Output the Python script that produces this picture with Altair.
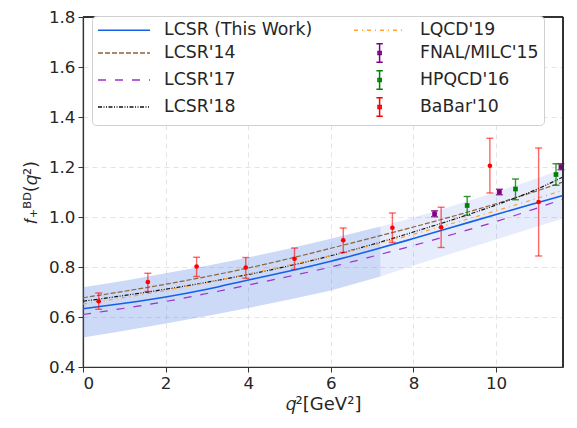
import altair as alt
import pandas as pd

# ---------------- data ----------------
q_grid = [0, 1, 2, 3, 4, 5, 6, 7, 8, 9, 10, 11, 11.62]
lcsr_this = [0.633, 0.655, 0.680, 0.711, 0.748, 0.784, 0.823, 0.867, 0.914, 0.962, 1.010, 1.057, 1.086]
lcsr_17 = [0.610, 0.635, 0.662, 0.694, 0.728, 0.763, 0.800, 0.842, 0.886, 0.933, 0.982, 1.036, 1.072]
lqcd_19 = [0.652, 0.678, 0.706, 0.738, 0.772, 0.808, 0.846, 0.887, 0.931, 0.977, 1.025, 1.075, 1.107]
lcsr_14 = [0.677, 0.703, 0.731, 0.762, 0.796, 0.834, 0.875, 0.917, 0.960, 1.005, 1.053, 1.105, 1.140]
lcsr_18 = [0.663, 0.686, 0.711, 0.739, 0.770, 0.805, 0.845, 0.890, 0.940, 0.992, 1.048, 1.112, 1.160]

band_q_a = [0, 1, 2, 3, 4, 5, 6, 7.2]
band_hi_a = [0.719, 0.745, 0.775, 0.805, 0.838, 0.874, 0.913, 0.962]
band_lo_a = [0.518, 0.545, 0.574, 0.604, 0.636, 0.670, 0.706, 0.762]
band_q_b = [7.2, 8, 9, 10, 11, 11.62]
band_hi_b = [0.962, 0.998, 1.047, 1.100, 1.155, 1.192]
band_lo_b = [0.762, 0.806, 0.858, 0.910, 0.962, 0.994]

babar_q = [0.38, 1.57, 2.75, 3.94, 5.12, 6.30, 7.49, 8.67, 9.85, 11.03]
babar_f = [0.663, 0.740, 0.802, 0.798, 0.833, 0.907, 0.957, 0.959, 1.205, 1.060]
babar_lo = [0.631, 0.702, 0.762, 0.755, 0.790, 0.858, 0.898, 0.878, 1.096, 0.844]
babar_hi = [0.696, 0.775, 0.839, 0.838, 0.876, 0.956, 1.016, 1.039, 1.315, 1.276]

fnal_q = [8.51, 10.08, 11.57]
fnal_f = [1.013, 1.100, 1.201]
fnal_lo = [1.001, 1.089, 1.189]
fnal_hi = [1.025, 1.111, 1.213]

hpqcd_q = [9.30, 10.47, 11.45]
hpqcd_f = [1.046, 1.112, 1.170]
hpqcd_lo = [1.007, 1.069, 1.127]
hpqcd_hi = [1.082, 1.152, 1.213]

# legend order (filled column by column)
series_order = ["LCSR (This Work)", "LCSR'14", "LCSR'17", "LCSR'18",
                "LQCD'19", "FNAL/MILC'15", "HPQCD'16", "BaBar'10"]
series_colors = ["#1560e8", "#8b6640", "#9932cc", "#111111",
                 "#ffa030", "#800080", "#008000", "#ff0000"]
series_dashes = [[1, 0], [5, 2], [8, 9], [4, 1.5, 1, 1.5, 1, 1.5],
                 [4, 4, 1, 4], [1, 0], [1, 0], [1, 0]]
line_path = "M-1,0H5.5"
bar_path = "M2.2,-1.15V1.15M1.8,-1.15H2.6M1.8,1.15H2.6M2.0,-0.2H2.4V0.2H2.0Z"
series_shapes = [line_path, line_path, line_path, line_path,
                 line_path, bar_path, bar_path, bar_path]

x_ticks = [0, 2, 4, 6, 8, 10]
y_ticks = [0.4, 0.6, 0.8, 1.0, 1.2, 1.4, 1.6, 1.8]

# ---------------- tables ----------------
curves = [("LCSR (This Work)", lcsr_this), ("LCSR'14", lcsr_14), ("LCSR'17", lcsr_17),
          ("LCSR'18", lcsr_18), ("LQCD'19", lqcd_19)]
line_df = pd.DataFrame([{"q": q, "f": v, "series": n}
                        for n, vals in curves for q, v in zip(q_grid, vals)])
band_a = pd.DataFrame({"q": band_q_a, "lo": band_lo_a, "hi": band_hi_a})
band_b = pd.DataFrame({"q": band_q_b, "lo": band_lo_b, "hi": band_hi_b})
babar = pd.DataFrame({"q": babar_q, "f": babar_f, "lo": babar_lo, "hi": babar_hi})
fnal = pd.DataFrame({"q": fnal_q, "f": fnal_f, "lo": fnal_lo, "hi": fnal_hi})
hpqcd = pd.DataFrame({"q": hpqcd_q, "f": hpqcd_f, "lo": hpqcd_lo, "hi": hpqcd_hi})
legend_df = pd.DataFrame({"series": series_order})

PW, PH = 480, 350

# ---------------- scales / axes ----------------
xs = alt.Scale(domain=[0, 11.62], nice=False, zero=False)
ys = alt.Scale(domain=[0.4, 1.8], nice=False, zero=False)
ax_x = alt.Axis(values=x_ticks, title="𝑞²[GeV²]", format="d", titlePadding=4)
ax_y = alt.Axis(values=y_ticks, title="𝑓₊ᴮᴰ(𝑞²)", format=".1f", titlePadding=8)
color_scale = alt.Scale(domain=series_order, range=series_colors)
dash_scale = alt.Scale(domain=series_order, range=series_dashes)
shape_scale = alt.Scale(domain=series_order, range=series_shapes)


def leg():
    return alt.Legend(
        title=None, orient="none", legendX=9, legendY=-1, columns=2,
        symbolSize=256, symbolStrokeWidth=1.5, symbolOpacity=1,
        labelOffset=49, labelFontSize=17.3, labelColor="#262626", labelLimit=300,
        padding=5, rowPadding=1, columnPadding=38,
        fillColor="white", strokeColor="#d0d0d0", cornerRadius=4)


def X(field):
    return alt.X(field, type="quantitative", scale=xs, axis=ax_x)


def Y(field):
    return alt.Y(field, type="quantitative", scale=ys, axis=ax_y)


band_dark = alt.Chart(band_a).mark_area(color="#3a6ee0", opacity=0.26).encode(
    x=X("q"), y=Y("lo"), y2="hi")
band_light = alt.Chart(band_b).mark_area(color="#3a6ee0", opacity=0.13).encode(
    x=X("q"), y=Y("lo"), y2="hi")

others = line_df[line_df.series != "LCSR (This Work)"]
main = line_df[line_df.series == "LCSR (This Work)"]

lines_other = alt.Chart(others).mark_line(strokeWidth=1.2, interpolate="monotone").encode(
    x=X("q"), y=Y("f"),
    color=alt.Color("series:N", scale=color_scale, legend=leg()),
    strokeDash=alt.StrokeDash("series:N", scale=dash_scale, legend=leg()),
    detail="series:N")
line_main = alt.Chart(main).mark_line(strokeWidth=1.6, interpolate="monotone").encode(
    x=X("q"), y=Y("f"),
    color=alt.Color("series:N", scale=color_scale, legend=leg()))


def errbars(df, color, shape, msize, bar_op):
    rule = alt.Chart(df).mark_rule(color=color, strokeWidth=1.4, opacity=bar_op).encode(
        x=X("q"), y=Y("lo"), y2="hi")
    cap_lo = alt.Chart(df).mark_tick(color=color, orient="horizontal", size=7,
                                     thickness=1.4, opacity=bar_op).encode(x=X("q"), y=Y("lo"))
    cap_hi = alt.Chart(df).mark_tick(color=color, orient="horizontal", size=7,
                                     thickness=1.4, opacity=bar_op).encode(x=X("q"), y=Y("hi"))
    pts = alt.Chart(df).mark_point(color=color, filled=True, shape=shape, size=msize,
                                   opacity=1).encode(x=X("q"), y=Y("f"))
    return [rule, cap_lo, cap_hi, pts]


legend_layer = alt.Chart(legend_df).mark_point(filled=False, opacity=0).encode(
    x=alt.value(0), y=alt.value(0),
    color=alt.Color("series:N", scale=color_scale, legend=leg()),
    shape=alt.Shape("series:N", scale=shape_scale, legend=leg()),
    strokeDash=alt.StrokeDash("series:N", scale=dash_scale, legend=leg()),
)

frame_top = alt.Chart(legend_df).mark_rule(color="#333333", strokeWidth=1.2).encode(
    x=alt.value(0), x2=alt.value(PW), y=alt.value(0))
frame_right = alt.Chart(legend_df).mark_rule(color="#333333", strokeWidth=1.2).encode(
    x=alt.value(PW), y=alt.value(0), y2=alt.value(PH))

layers = [band_dark, band_light, lines_other, line_main]
layers += errbars(babar, "#ff0000", "circle", 22, 0.6)
layers += errbars(fnal, "#800080", "square", 22, 0.8)
layers += errbars(hpqcd, "#008000", "square", 22, 0.8)
layers += [frame_top, frame_right, legend_layer]

chart = alt.layer(*layers).properties(
    width=PW, height=PH,
    autosize=alt.AutoSizeParams(type="none"),
    padding={"left": 75, "top": 9, "right": 6, "bottom": 61},
).configure_view(
    stroke="#333333", strokeWidth=1.2
).configure_axis(
    grid=True, gridDash=[5, 4], gridColor="#dddddd", gridWidth=0.8,
    domainColor="#333333", tickColor="#333333", tickSize=5, domainWidth=1.2,
    labelFont="DejaVu Sans", titleFont="DejaVu Sans",
    labelFontSize=16.7, titleFontSize=18, labelColor="#262626", titleColor="#262626",
    titleFontWeight="normal", labelPadding=3,
).configure_legend(labelFont="DejaVu Sans")

chart.save("out.html", embed_options={"renderer": "svg", "actions": False})
